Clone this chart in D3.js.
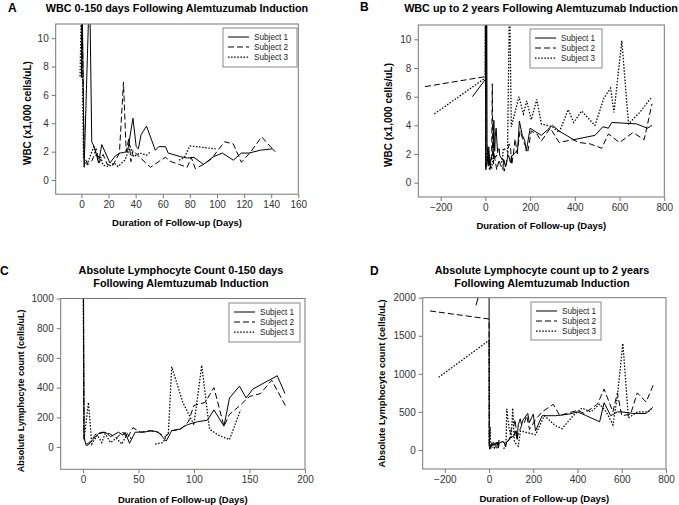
<!DOCTYPE html>
<html><head><meta charset="utf-8">
<script src="https://cdn.jsdelivr.net/npm/d3@7"></script>
<style>
body{margin:0;background:#fff}
svg{display:block}
text{font-family:"Liberation Sans",Arial,Helvetica,sans-serif}
</style>
</head><body>
<svg id="chart" width="679" height="505"></svg>
<script>
// ---------- labels ----------
const subjects = ["Subject 1", "Subject 2", "Subject 3"];
const panelLetters = ["A", "B", "C", "D"];
const titleA = ["WBC 0-150 days Following Alemtuzumab Induction"];
const titleB = ["WBC up to 2 years Following Alemtuzumab Induction"];
const titleC = ["Absolute Lymphocyte Count 0-150 days", "Following Alemtuzumab Induction"];
const titleD = ["Absolute Lymphocyte count up to 2 years", "Following Alemtuzumab Induction"];
const xLabel = "Duration of Follow-up (Days)";
const yLabelWBC = "WBC (x1,000 cells/uL)";
const yLabelALC = "Absolute Lymphocyte count (cells/uL)";

// ---------- tick values ----------
const xTicksA = [0, 20, 40, 60, 80, 100, 120, 140, 160];
const yTicksA = [0, 2, 4, 6, 8, 10];
const xTicksB = [-200, 0, 200, 400, 600, 800];
const yTicksB = [0, 2, 4, 6, 8, 10];
const xTicksC = [0, 50, 100, 150, 200];
const yTicksC = [0, 200, 400, 600, 800, 1000];
const xTicksD = [-200, 0, 200, 400, 600, 800];
const yTicksD = [0, 500, 1000, 1500, 2000];

// ---------- WBC (x1,000 cells/uL) ----------
const wbcS1PreDays = [-58];
const wbcS1PreVals = [6.0];
const wbcS1Days = [0, 0.5, 2, 6, 7.6, 10, 12.6, 15, 21, 25, 28.6, 34, 38, 40.4, 42, 44, 48, 54.5, 57, 62, 64, 73, 78, 83, 90, 97.6, 104, 112, 118, 123.5, 132, 141, 143];
const wbcS1Vals = [7.2, 13, 0.9, 14, 2.7, 2.2, 1.2, 2.5, 1.2, 1.7, 1.9, 2.0, 4.35, 2.35, 2.2, 3.2, 3.8, 2.1, 2.35, 2.35, 1.9, 1.65, 1.55, 1.6, 1.1, 1.65, 1.9, 1.4, 1.9, 1.9, 2.1, 2.2, 2.0];
const wbcS1LateDays = [152, 165, 175, 183, 200, 250, 300, 330, 395, 490, 525, 550, 565, 675, 725, 745];
const wbcS1LateVals = [4.3, 3.3, 3.0, 2.2, 3.8, 3.3, 4.0, 3.6, 3.0, 3.3, 3.9, 3.8, 4.2, 4.1, 3.8, 4.0];

const wbcS2PreDays = [-270];
const wbcS2PreVals = [6.7];
const wbcS2Days = [0, 0.5, 2, 5, 8, 11, 13, 16, 19, 23, 28, 31, 33, 35, 36.5, 38, 43, 51, 57, 62, 66, 72, 78, 81, 84, 90, 96, 105.5, 112, 118, 125, 133, 137, 142];
const wbcS2Vals = [7.4, 12, 1.6, 1.1, 1.4, 2.2, 1.2, 1.8, 1.1, 1.0, 1.9, 6.9, 2.0, 2.95, 1.3, 2.1, 1.6, 0.9, 1.3, 1.6, 1.3, 1.1, 0.9, 1.6, 0.8, 1.1, 1.5, 2.7, 2.55, 1.25, 2.0, 3.05, 2.6, 2.1];
const wbcS2LateDays = [155, 175, 190, 205, 230, 250, 290, 330, 390, 420, 470, 520, 550, 600, 660, 710, 745];
const wbcS2LateVals = [3.6, 2.7, 2.2, 3.6, 3.4, 2.9, 3.8, 2.8, 3.0, 2.8, 2.7, 2.4, 3.4, 2.8, 3.5, 3.0, 5.5];

const wbcS3PreDays = [-228];
const wbcS3PreVals = [4.8];
const wbcS3Days = [-1, 0, 1.5, 4, 9, 11, 14, 16, 20, 24, 27, 32, 36, 38.5, 43, 48, 51, 60, 72, 76, 80, 99];
const wbcS3Vals = [7.3, 13, 1.6, 1.05, 2.35, 1.65, 1.65, 1.05, 0.95, 1.2, 0.95, 1.4, 2.35, 1.65, 1.9, 1.75, 2.0, null, 1.4, 1.6, 2.4, 2.2];
const wbcS3LateDays = [108, 116, 150, 170, 185, 205, 230, 250, 300, 330, 370, 395, 430, 490, 530, 560, 575, 610, 640, 690, 740];
const wbcS3LateVals = [13, 3.9, 6.0, 4.8, 5.7, 4.4, 5.8, 4.1, 3.9, 3.5, 5.1, 4.2, 5.0, 4.0, 5.9, 6.6, 4.9, 9.9, 4.1, 4.9, 5.9];

// ---------- Absolute lymphocyte count (cells/uL) ----------
const alcS1PreDays = [-59];
const alcS1PreVals = [1900];
const alcS1Days = [0, 1, 3, 5, 9, 14, 20, 25, 32, 36, 38, 42, 47, 55, 62, 68, 75, 80, 87, 94, 103, 112, 118, 127, 132, 141, 147, 153, 175, 182];
const alcS1Vals = [2520, 60, 10, 15, 50, 90, 100, 70, 100, 80, 100, 25, 100, 100, 110, 100, 40, 110, 120, 150, 170, 180, 250, 140, 330, 410, 330, 390, 480, 360];
const alcS1LateDays = [200, 210, 240, 300, 360, 400, 440, 500, 520, 550, 580, 600, 650, 710, 740];
const alcS1LateVals = [470, 250, 450, 450, 470, 500, 450, 370, 620, 450, 500, 500, 480, 480, 560];

const alcS2PreDays = [-267];
const alcS2PreVals = [1826];
const alcS2Days = [0, 1, 4, 7, 12, 18, 24, 30, 36, 40, 45, 52, 60, 67, 74, 80, 88, 95, 100, 110, 118, 127, 132, 140, 150, 160, 170, 183];
const alcS2Vals = [1720, 60, 20, 40, 90, 100, 90, 60, 100, 60, 130, 100, 110, 100, 70, 110, 120, 170, 280, 300, 400, 140, 220, 270, 340, 360, 450, 270];
const alcS2LateDays = [210, 240, 290, 320, 350, 400, 430, 490, 520, 560, 580, 600, 640, 670, 710, 745];
const alcS2LateVals = [400, 500, 600, 450, 480, 520, 480, 600, 800, 500, 750, 450, 470, 750, 630, 870];

const alcS3PreDays = [-228];
const alcS3PreVals = [954];
const alcS3Days = [0, 1, 5, 8, 13, 17, 20, 25, 30, 35, 40, 44, 55, 65, 72, 77, 80, 90, 100, 107, 114, 122, 132, 142];
const alcS3Vals = [1440, 50, 300, 20, 80, 30, 90, 30, 60, 20, 90, 50, null, 20, 30, 100, 540, 300, 150, 550, 120, 80, 50, 250];
const alcS3LateDays = [210, 250, 300, 330, 380, 420, 460, 500, 530, 560, 580, 605, 630, 670, 720, 740];
const alcS3LateVals = [200, 450, 320, 280, 450, 550, 500, 600, 500, 330, 700, 1400, 420, 500, 500, 560];

// ---------- helpers ----------
const zip = (days, vals) => days.map((d, i) => ({d: d, v: vals[i]}));
const dashes = [null, "6,3", "1.5,1.6"];
const widths = [1, 1, 1.25];
const svg = d3.select("#chart");

function panel(cfg) {
  const x = d3.scaleLinear().domain(cfg.xDomain).range([cfg.left, cfg.right]);
  const y = d3.scaleLinear().domain(cfg.yDomain).range([cfg.bottom, cfg.top]);
  const g = svg.append("g");
  const clipId = "clip" + cfg.id;
  svg.append("clipPath").attr("id", clipId).append("rect")
    .attr("x", cfg.left).attr("y", cfg.top)
    .attr("width", cfg.right - cfg.left).attr("height", cfg.bottom - cfg.top);

  const gx = g.append("g").attr("transform", `translate(0,${cfg.bottom})`)
    .call(d3.axisBottom(x).tickValues(cfg.xTicks).tickSize(4).tickPadding(3).tickFormat(d3.format("d")));
  const gy = g.append("g").attr("transform", `translate(${cfg.left},0)`)
    .call(d3.axisLeft(y).tickValues(cfg.yTicks).tickSize(4).tickPadding(3).tickFormat(d3.format("d")));
  [gx, gy].forEach(a => {
    a.select(".domain").remove();
    a.selectAll(".tick line").attr("stroke", "#777");
    a.selectAll(".tick text").attr("fill", "#333").style("font-size", "10px");
  });

  const line = d3.line().defined(p => p.v != null).x(p => x(p.d)).y(p => y(p.v));
  cfg.series.forEach((s, i) => {
    g.append("path").datum(s).attr("clip-path", `url(#${clipId})`)
      .attr("d", line).attr("fill", "none").attr("stroke", "#000")
      .attr("stroke-width", widths[i]).attr("stroke-dasharray", dashes[i]);
  });

  g.append("rect").attr("x", cfg.left).attr("y", cfg.top)
    .attr("width", cfg.right - cfg.left).attr("height", cfg.bottom - cfg.top)
    .attr("fill", "none").attr("stroke", "#777").attr("stroke-width", 1);

  // legend
  const L = cfg.legend;
  g.append("rect").attr("x", L.x).attr("y", L.y).attr("width", L.w).attr("height", L.h)
    .attr("fill", "#fff").attr("stroke", "#888").attr("stroke-width", 1);
  subjects.forEach((name, i) => {
    const yy = L.y + 9 + i * 10;
    g.append("line").attr("x1", L.x + 5).attr("x2", L.x + 26).attr("y1", yy).attr("y2", yy)
      .attr("stroke", "#000").attr("stroke-width", widths[i]).attr("stroke-dasharray", dashes[i]);
    g.append("text").attr("x", L.x + 31).attr("y", yy + 3).text(name)
      .style("font-size", "8.2px").attr("fill", "#222");
  });

  // titles
  cfg.title.forEach((t, i) => {
    g.append("text").attr("x", cfg.titleX).attr("y", cfg.titleY + i * 12.5)
      .attr("text-anchor", "middle").style("font-size", "10.8px").style("font-weight", "bold").text(t);
  });
  g.append("text").attr("x", cfg.letterX).attr("y", cfg.letterY).text(cfg.letter)
    .style("font-size", "12px").style("font-weight", "bold");
  g.append("text").attr("x", (cfg.left + cfg.right) / 2).attr("y", cfg.xLabelY)
    .attr("text-anchor", "middle").style("font-size", "9.5px").style("font-weight", "bold").text(xLabel);
  g.append("text").attr("transform", `translate(${cfg.yLabelX},${(cfg.top + cfg.bottom) / 2 + cfg.yLabelShift}) rotate(-90)`)
    .attr("text-anchor", "middle").style("font-size", cfg.yLabelSize).style("font-weight", "bold").text(cfg.yLabel);
}

panel({
  id: "A", letter: panelLetters[0], letterX: 8, letterY: 12,
  title: titleA, titleX: 177, titleY: 11.5,
  left: 55.7, right: 298.3, top: 24, bottom: 194.2,
  xDomain: [-19, 160], yDomain: [-1, 11], xTicks: xTicksA, yTicks: yTicksA,
  series: [zip(wbcS1Days, wbcS1Vals), zip(wbcS2Days, wbcS2Vals), zip(wbcS3Days, wbcS3Vals)],
  legend: {x: 223, y: 28, w: 74, h: 39},
  xLabelY: 226, yLabelX: 31, yLabelShift: 4, yLabelSize: "10px", yLabel: yLabelWBC
});

panel({
  id: "B", letter: panelLetters[1], letterX: 360, letterY: 11,
  title: titleB, titleX: 541, titleY: 12,
  left: 418.3, right: 664.3, top: 25, bottom: 197,
  xDomain: [-300, 800], yDomain: [-1, 11], xTicks: xTicksB, yTicks: yTicksB,
  series: [
    zip(wbcS1PreDays.concat(wbcS1Days, wbcS1LateDays), wbcS1PreVals.concat(wbcS1Vals, wbcS1LateVals)),
    zip(wbcS2PreDays.concat(wbcS2Days, wbcS2LateDays), wbcS2PreVals.concat(wbcS2Vals, wbcS2LateVals)),
    zip(wbcS3PreDays.concat(wbcS3Days, wbcS3LateDays), wbcS3PreVals.concat(wbcS3Vals, wbcS3LateVals))
  ],
  legend: {x: 530, y: 29, w: 72, h: 39},
  xLabelY: 229, yLabelX: 392, yLabelShift: 4, yLabelSize: "10px", yLabel: yLabelWBC
});

panel({
  id: "C", letter: panelLetters[2], letterX: 0, letterY: 275,
  title: titleC, titleX: 181, titleY: 274,
  left: 60.7, right: 305, top: 298.5, bottom: 469.3,
  xDomain: [-20, 200], yDomain: [-150, 1000], xTicks: xTicksC, yTicks: yTicksC,
  series: [zip(alcS1Days, alcS1Vals), zip(alcS2Days, alcS2Vals), zip(alcS3Days, alcS3Vals)],
  legend: {x: 229, y: 303, w: 71, h: 39},
  xLabelY: 503, yLabelX: 24, yLabelShift: 7, yLabelSize: "9px", yLabel: yLabelALC
});

panel({
  id: "D", letter: panelLetters[3], letterX: 370, letterY: 275,
  title: titleD, titleX: 542, titleY: 274,
  left: 422.7, right: 666, top: 297.7, bottom: 469,
  xDomain: [-300, 800], yDomain: [-250, 2000], xTicks: xTicksD, yTicks: yTicksD,
  series: [
    zip(alcS1PreDays.concat(alcS1Days, alcS1LateDays), alcS1PreVals.concat(alcS1Vals, alcS1LateVals)),
    zip(alcS2PreDays.concat(alcS2Days, alcS2LateDays), alcS2PreVals.concat(alcS2Vals, alcS2LateVals)),
    zip(alcS3PreDays.concat(alcS3Days, alcS3LateDays), alcS3PreVals.concat(alcS3Vals, alcS3LateVals))
  ],
  legend: {x: 531, y: 302, w: 70, h: 38},
  xLabelY: 502, yLabelX: 385, yLabelShift: 0, yLabelSize: "9.3px", yLabel: yLabelALC
});
</script>
</body></html>
